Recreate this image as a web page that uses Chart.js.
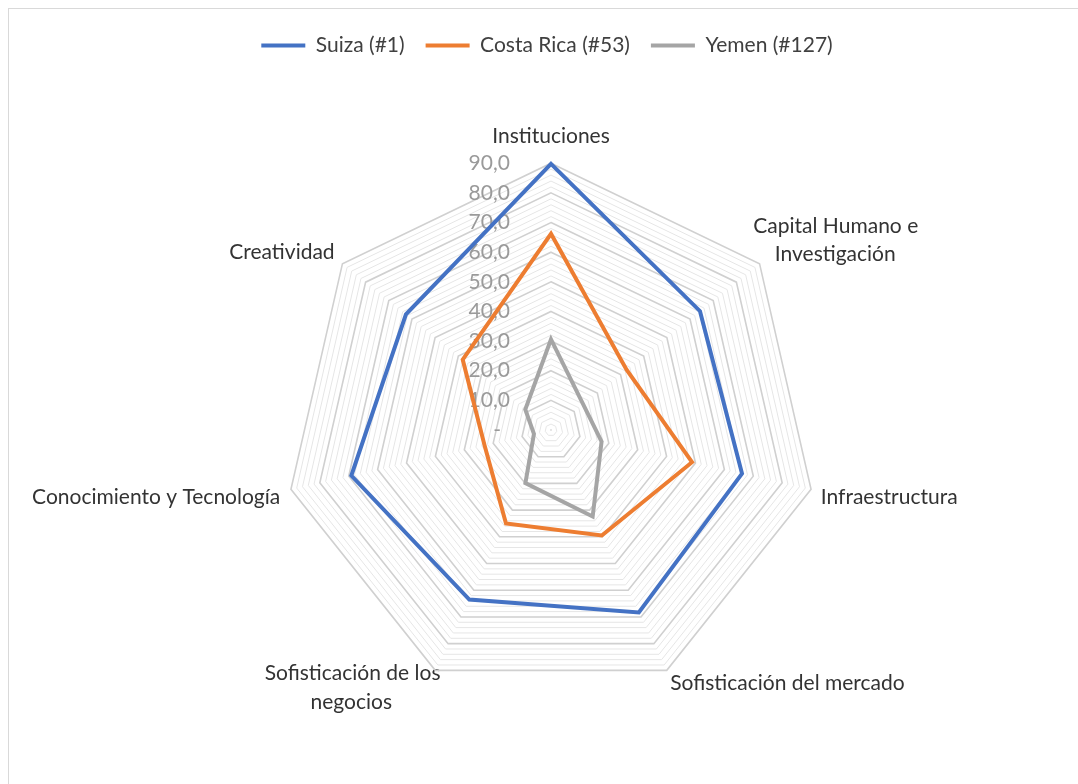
<!DOCTYPE html>
<html>
<head>
<meta charset="utf-8">
<script src="https://cdn.jsdelivr.net/npm/chart.js"></script>
<style>
  body { margin: 0; background: #fff; }
  #wrap { position: relative; width: 1078px; height: 784px; }
  #frame { position: absolute; left: 8px; top: 8px; right: 0; bottom: 0;
           border-top: 1px solid #d9d9d9; border-left: 1px solid #d9d9d9; pointer-events: none; }
</style>
</head>
<body>
<div id="wrap">
  <canvas id="radar" width="1078" height="784"></canvas>
  <div id="frame"></div>
</div>
<script>
// pillars of the index
const pillars = [
    'Instituciones',
    ['Capital Humano e', 'Investigación'],
    'Infraestructura',
    'Sofisticación del mercado',
    ['Sofisticación de los', 'negocios'],
    'Conocimiento y Tecnología',
    'Creatividad'
];
const suiza = [89.8, 64.3, 66.1, 68.3, 63.5, 69.1, 62.6];
const costaRica = [66.2, 32.6, 48.8, 39.5, 35.0, 23.0, 38.1];
const yemen = [30.6, 13.9, 17.5, 32.4, 19.9, 5.9, 11.1];
const seriesNames = ['Suiza (#1)', 'Costa Rica (#53)', 'Yemen (#127)'];
const tickValues = [0, 2, 4, 6, 8, 10, 12, 14, 16, 18, 20, 22, 24, 26, 28, 30, 32, 34, 36, 38, 40,
    42, 44, 46, 48, 50, 52, 54, 56, 58, 60, 62, 64, 66, 68, 70, 72, 74, 76, 78, 80, 82, 84, 86, 88, 90];

const FONT = 'Lato';
const fontSize = 21;
const NBSP = '\u00A0';

// label padding per pillar (chart.js adds ~12px on top of this)
const labelPads = [9.25, -20.5, -2.5, -4.5, -24.5, -1.5, -2.5];

const measurer = document.createElement('canvas').getContext('2d');
function textWidth(str) {
    measurer.font = fontSize + 'px ' + FONT;
    return measurer.measureText(str).width;
}

// pad shorter lines so a multi-line label looks centred
function centerLines(lines, alignRight) {
    if (!Array.isArray(lines)) return lines;
    const widths = lines.map(textWidth);
    const maxW = Math.max(...widths);
    const sp = textWidth(NBSP);
    return lines.map((l, i) => {
        const n = Math.round((maxW - widths[i]) / 2 / sp);
        return alignRight ? l + NBSP.repeat(n) : NBSP.repeat(n) + l;
    });
}

// tick text sits left of the axis, like excel
function tickText(value) {
    if (value % 10 !== 0) return '';
    const txt = value === 0 ? '-' : value.toFixed(1).replace('.', ',');
    const gap = value === 0 ? 50 : 40;
    const n = Math.round((textWidth(txt) + 2 * gap) / textWidth(NBSP));
    return txt + NBSP.repeat(n);
}

// leave room under the legend
const legendSpacer = {
    id: 'legendSpacer',
    beforeInit(chart) {
        const fit = chart.legend.fit;
        chart.legend.fit = function () {
            fit.bind(this)();
            this.height += 59;
        };
    }
};

const canvas = document.getElementById('radar');
const radarChart = new Chart(canvas, {
    type: 'radar',
    data: {
        labels: pillars,
        datasets: [
            { label: seriesNames[0], data: suiza, borderColor: '#4472C4', backgroundColor: '#4472C4', borderWidth: 4 },
            { label: seriesNames[1], data: costaRica, borderColor: '#ED7D31', backgroundColor: '#ED7D31', borderWidth: 4 },
            { label: seriesNames[2], data: yemen, borderColor: '#A5A5A5', backgroundColor: '#A5A5A5', borderWidth: 4 }
        ]
    },
    plugins: [legendSpacer],
    options: {
        responsive: false,
        animation: false,
        layout: { padding: { top: 14, bottom: 60, left: 16, right: 0 } },
        elements: {
            line: { fill: false, tension: 0 },
            point: { radius: 0, hoverRadius: 0 }
        },
        plugins: {
            tooltip: { enabled: false },
            legend: {
                position: 'top',
                labels: {
                    usePointStyle: true,
                    pointStyle: 'line',
                    pointStyleWidth: 44,
                    padding: 21,
                    color: '#404040',
                    font: { family: FONT, size: fontSize }
                }
            }
        },
        scales: {
            r: {
                min: -0.001,
                max: 90,
                afterBuildTicks: (scale) => {
                    scale.ticks = tickValues.map(v => ({ value: v }));
                },
                angleLines: { display: false },
                grid: {
                    circular: false,
                    color: (ctx) => ctx.tick && ctx.tick.value % 10 === 0 ? '#d0d0d0' : '#e6e6e6',
                    lineWidth: (ctx) => ctx.tick && ctx.tick.value % 10 === 0 ? 1.6 : 1
                },
                ticks: {
                    autoSkip: false,
                    showLabelBackdrop: false,
                    color: '#9a9a9a',
                    font: { family: FONT, size: fontSize },
                    callback: tickText
                },
                pointLabels: {
                    color: '#333333',
                    padding: (ctx) => labelPads[ctx.index],
                    font: (ctx) => ({
                        family: FONT,
                        size: fontSize,
                        lineHeight: Array.isArray(pillars[ctx.index]) ? 1.35 : 0.5
                    }),
                    callback: (label, i) => centerLines(label, i > 3)
                }
            }
        }
    }
});
</script>
</body>
</html>
